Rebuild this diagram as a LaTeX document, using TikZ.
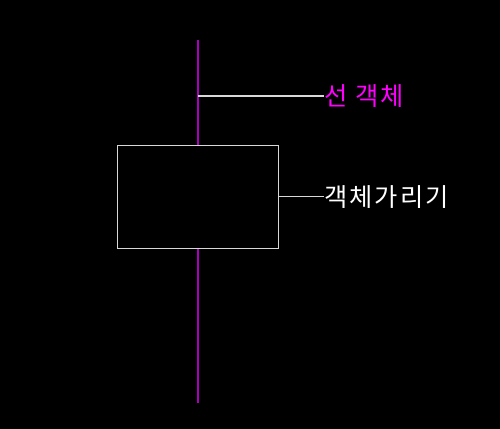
\documentclass[tikz,border=0pt]{standalone}
\usepackage{fontspec}
\newfontfamily\krfont[LetterSpace=8]{Noto Sans CJK KR}
\definecolor{cadBack}{HTML}{000000}
\definecolor{cadLine}{HTML}{A800BC}
\definecolor{cadMagenta}{HTML}{FF00FF}
\definecolor{cadWhite}{HTML}{D8D8D8}
\usetikzlibrary{positioning}

\begin{document}
\begin{tikzpicture}[x=0.02cm, y=-0.02cm,
  hidebox/.style={draw=cadWhite, line width=0.6pt, fill=cadBack,
    minimum width=3.22cm, minimum height=2.07cm, inner sep=0pt},
  objline/.style={color=cadLine, line width=0.8pt},
  leader/.style={color=cadWhite, line width=0.6pt},
  tag/.style={anchor=west, inner sep=0pt, font=\krfont\fontsize{14.4pt}{17pt}\selectfont}
]
  \fill[cadBack] (0,0) rectangle (500,429);
  \useasboundingbox (0,0) rectangle (500,429);

  \coordinate (top) at (197.8,40);
  \coordinate (bottom) at (197.8,403);
  \coordinate (lineMark) at (197.8,96);
  \node[hidebox] (hide) at (197.8,196.8) {};

  % line object, hidden behind the box
  \draw[objline] (top) -- (hide.north);
  \draw[objline] (hide.south) -- (bottom);

  \node[tag, text=cadMagenta] (lineTag) at (324,96) {선 객체};
  \node[tag, text=white] (hideTag) at (324,196.8) {객체가리기};

  \draw[leader] (lineMark) -- (lineMark -| lineTag.west);
  \draw[leader] (hide.east) -- (hide.east -| hideTag.west);
\end{tikzpicture}
\end{document}
